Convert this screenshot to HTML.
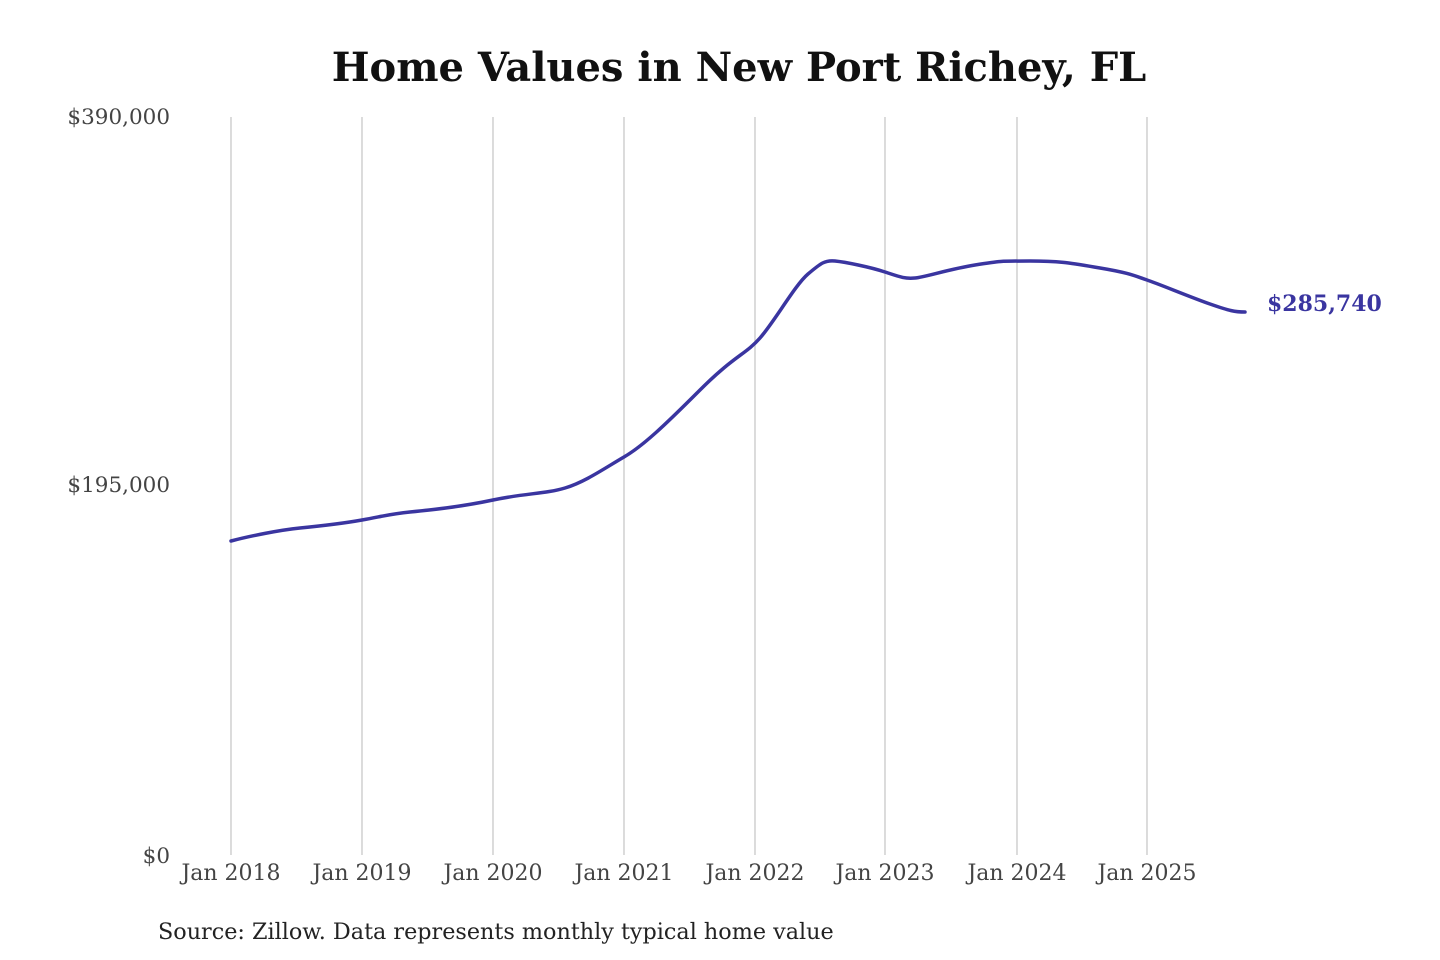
<!DOCTYPE html>
<html><head><meta charset="utf-8"><style>
html,body{margin:0;padding:0;background:#fff;}
svg{display:block;}
</style></head><body>
<svg width="1440" height="960" viewBox="0 0 1440 960" xmlns="http://www.w3.org/2000/svg">
<rect width="1440" height="960" fill="#fff"/>
<text x="739" y="81" text-anchor="middle" font-family="DejaVu Serif, Liberation Serif, serif" font-weight="bold" font-size="40" fill="#111">Home Values in New Port Richey, FL</text>
<g stroke="#c8c8c8" stroke-width="1.3">
<line x1="231" y1="117" x2="231" y2="855"/>
<line x1="362" y1="117" x2="362" y2="855"/>
<line x1="493" y1="117" x2="493" y2="855"/>
<line x1="624" y1="117" x2="624" y2="855"/>
<line x1="755" y1="117" x2="755" y2="855"/>
<line x1="885" y1="117" x2="885" y2="855"/>
<line x1="1017" y1="117" x2="1017" y2="855"/>
<line x1="1147" y1="117" x2="1147" y2="855"/>
</g>
<g font-family="DejaVu Serif, Liberation Serif, serif" font-size="21.5" fill="#444">
<text x="170" y="124" text-anchor="end">$390,000</text>
<text x="170" y="492" text-anchor="end">$195,000</text>
<text x="170" y="863" text-anchor="end">$0</text>
<g text-anchor="middle" font-size="22">
<text x="231" y="880">Jan 2018</text>
<text x="362" y="880">Jan 2019</text>
<text x="493" y="880">Jan 2020</text>
<text x="624" y="880">Jan 2021</text>
<text x="755" y="880">Jan 2022</text>
<text x="885" y="880">Jan 2023</text>
<text x="1017" y="880">Jan 2024</text>
<text x="1147" y="880">Jan 2025</text>
</g>
</g>
<path d="M231,541 C250,536 280,530 300,528 S340,524 362,520 S390,514 410,512 S460,507 493,500 S545,494 565,488 S605,468 624,457 S665,425 700,390 S745,355 760,338 S795,285 808,274 S825,260 835,261 S870,267 885,272 S905,279 915,278 S950,269 975,265 S1000,261 1030,261 S1070,263 1100,268 S1135,276 1147,280 S1190,297 1210,304 S1235,312 1245,312" fill="none" stroke="#3a35a0" stroke-width="3.5" stroke-linecap="round"/>
<text x="1267" y="311" font-family="DejaVu Serif, Liberation Serif, serif" font-weight="bold" font-size="22" fill="#3a35a0">$285,740</text>
<text x="158" y="939" font-family="DejaVu Serif, Liberation Serif, serif" font-size="22.3" fill="#222">Source: Zillow. Data represents monthly typical home value</text>
</svg>
</body></html>
